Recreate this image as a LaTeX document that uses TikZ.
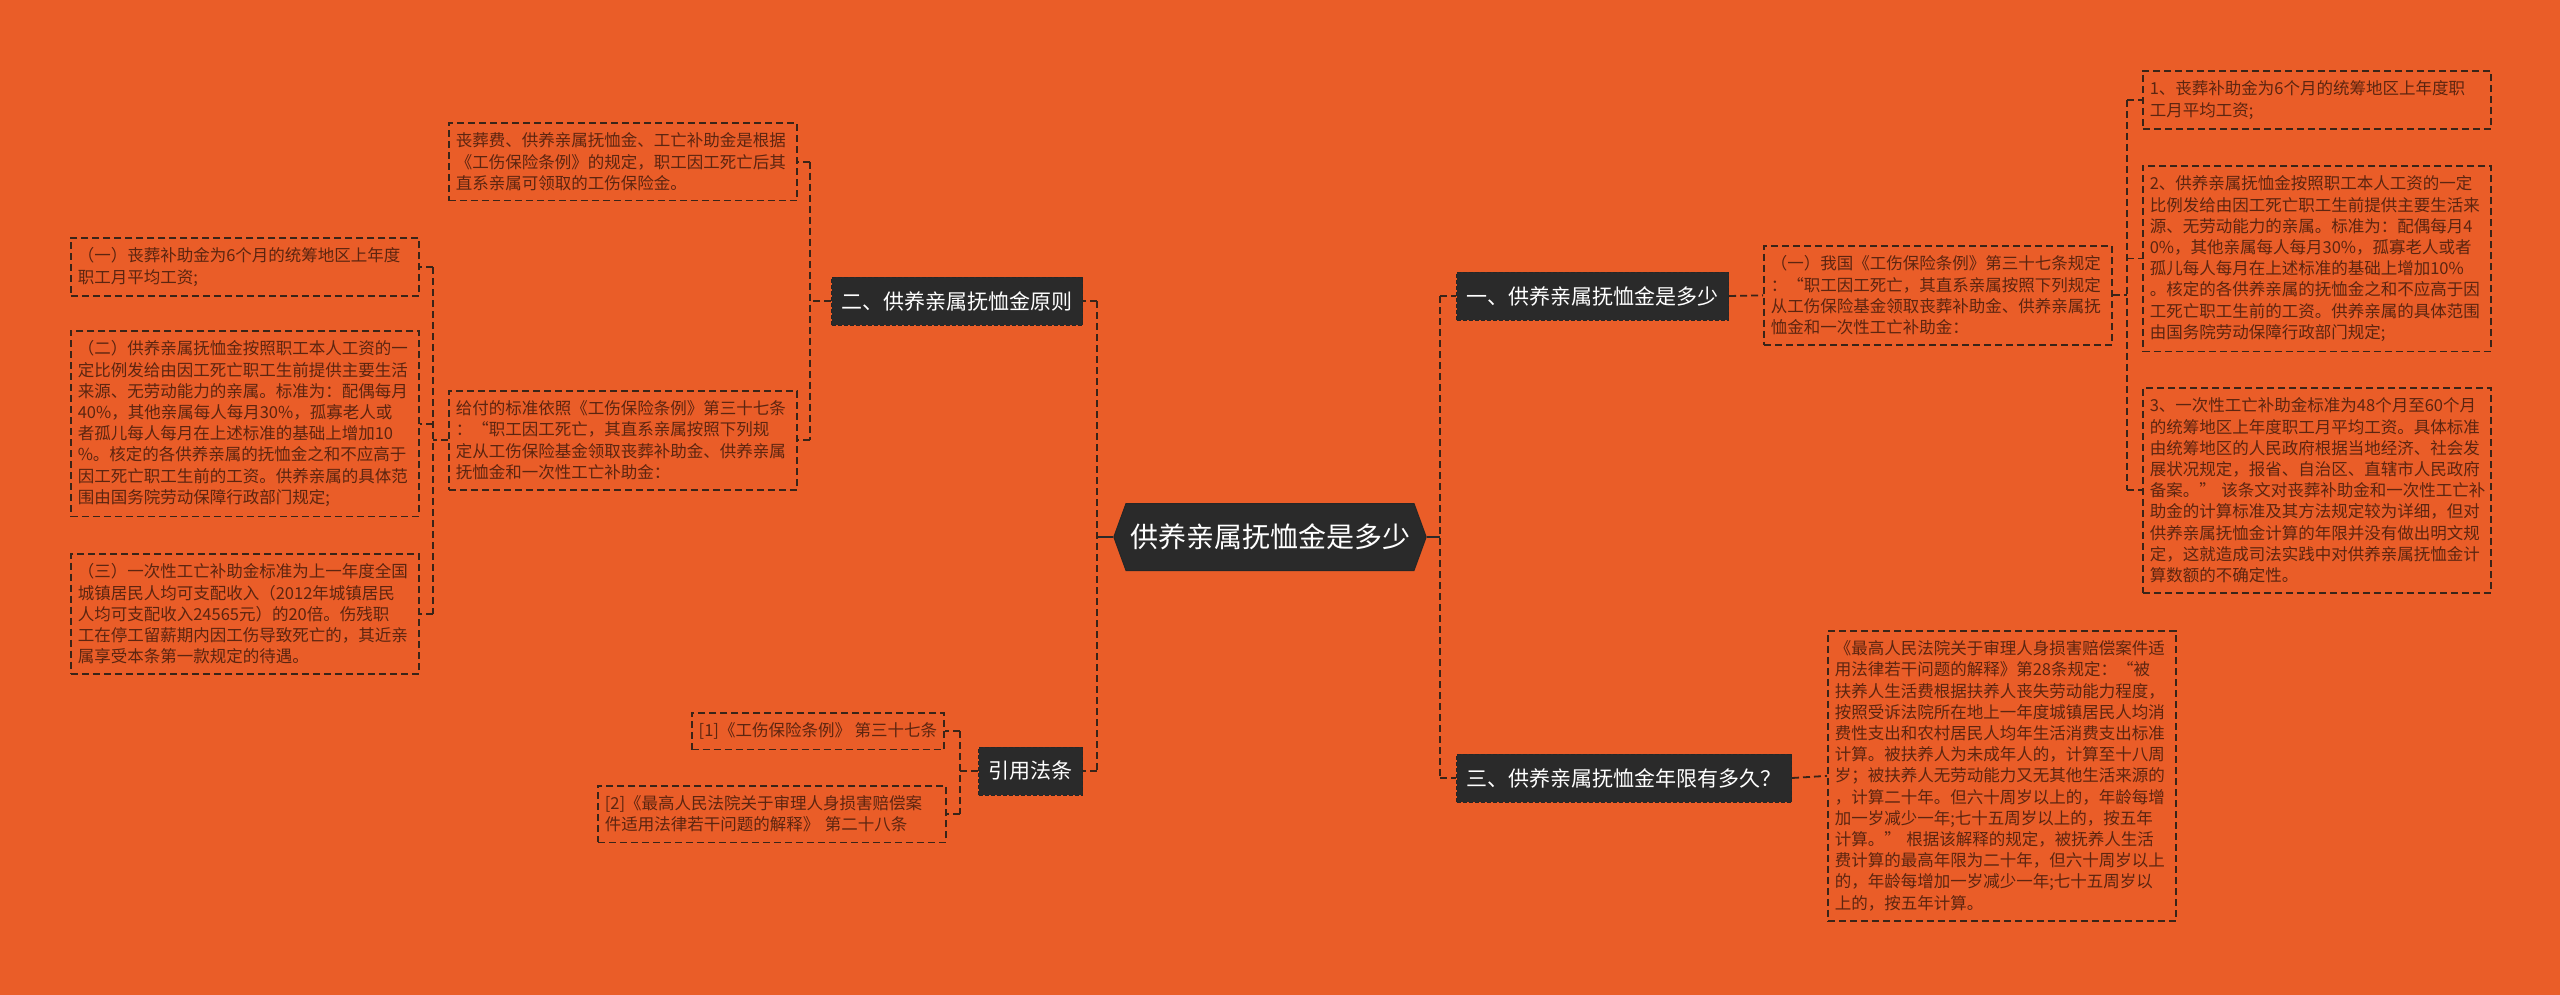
\documentclass[tikz,border=0pt]{standalone}
\usepackage{fontspec}
\setmainfont{Noto Sans CJK SC}
\usetikzlibrary{shapes.symbols}
\definecolor{bg}{HTML}{EA5D28}
\definecolor{ink}{HTML}{5C2510}
\definecolor{lin}{HTML}{3A2418}
\definecolor{dark}{HTML}{2A2A2A}
\tikzset{
 conn/.style={draw=lin, line width=1.8pt, dash pattern=on 7pt off 4pt},
 hubconn/.style={draw=dark, line width=1.8pt},
 leaf/.style={draw=lin, line width=1.6pt, dash pattern=on 7pt off 4pt, text=ink, align=left, inner xsep=7pt, inner ysep=10pt, font=\fontsize{16.5}{21.2}\selectfont},
 leafw/.style={leaf, text width=334pt},
 topic/.style={draw=black!85, line width=1pt, dash pattern=on 4pt off 2pt, fill=dark, text=white, font=\fontsize{21}{25}\selectfont, inner xsep=10pt, minimum height=48pt},
 hub/.style={signal, signal to=east and west, signal pointer angle=140, fill=dark, draw=black!85, line width=1pt, text=white, font=\fontsize{28}{32}\selectfont, minimum height=67pt, inner xsep=4pt}
}
\begin{document}
\begin{tikzpicture}[x=1pt,y=-1pt]
\fill[bg] (0,0) rectangle (2560,995);
\useasboundingbox (0,0) rectangle (2560,995);

% bus coordinates
\coordinate (bL) at (1097,0);
\coordinate (bR) at (1440,0);
\coordinate (b2) at (810,0);
\coordinate (bG) at (433,0);
\coordinate (b4) at (960,0);
\coordinate (bR1) at (2127,0);

% hub
\node[hub] (hub) at (1270,537) {供养亲属抚恤金是多少};

% topics
\node[topic, anchor=west] (t1) at (1456,296) {一、供养亲属抚恤金是多少};
\node[topic, anchor=west] (t3) at (1456,778) {三、供养亲属抚恤金年限有多久？};
\node[topic, anchor=east] (t2) at (1083,301) {二、供养亲属抚恤金原则};
\node[topic, anchor=east] (t4) at (1083,771) {引用法条};

% left leaves of topic 2
\node[leafw, anchor=north west] (n2a) at (448,122) {丧葬费、供养亲属抚恤金、工亡补助金是根据\\《工伤保险条例》的规定，职工因工死亡后其\\直系亲属可领取的工伤保险金。};
\node[leafw, anchor=north west] (n2b) at (448,390) {给付的标准依照《工伤保险条例》第三十七条\\：“职工因工死亡，其直系亲属按照下列规\\定从工伤保险基金领取丧葬补助金、供养亲属\\抚恤金和一次性工亡补助金：};

\node[leafw, anchor=north west] (L1) at (70,237) {（一）丧葬补助金为6个月的统筹地区上年度\\职工月平均工资;};
\node[leafw, anchor=north west] (L2) at (70,330) {（二）供养亲属抚恤金按照职工本人工资的一\\定比例发给由因工死亡职工生前提供主要生活\\来源、无劳动能力的亲属。标准为：配偶每月\\40\%，其他亲属每人每月30\%，孤寡老人或\\者孤儿每人每月在上述标准的基础上增加10\\\%。核定的各供养亲属的抚恤金之和不应高于\\因工死亡职工生前的工资。供养亲属的具体范\\围由国务院劳动保障行政部门规定;};
\node[leafw, anchor=north west] (L3) at (70,553) {（三）一次性工亡补助金标准为上一年度全国\\城镇居民人均可支配收入（2012年城镇居民\\人均可支配收入24565元）的20倍。伤残职\\工在停工留薪期内因工伤导致死亡的，其近亲\\属享受本条第一款规定的待遇。};

% references
\node[leaf, anchor=north east] (c1) at (945,712) {[1]《工伤保险条例》~第三十七条};
\node[leafw, anchor=north west] (c2) at (597,785) {[2]《最高人民法院关于审理人身损害赔偿案\\件适用法律若干问题的解释》~第二十八条};

% right side
\node[leafw, anchor=north west] (r1) at (1763,245) {（一）我国《工伤保险条例》第三十七条规定\\：“职工因工死亡，其直系亲属按照下列规定\\从工伤保险基金领取丧葬补助金、供养亲属抚\\恤金和一次性工亡补助金：};
\node[leafw, anchor=north west] (r1a) at (2142,70) {1、丧葬补助金为6个月的统筹地区上年度职\\工月平均工资;};
\node[leafw, anchor=north west] (r1b) at (2142,165) {2、供养亲属抚恤金按照职工本人工资的一定\\比例发给由因工死亡职工生前提供主要生活来\\源、无劳动能力的亲属。标准为：配偶每月4\\0\%，其他亲属每人每月30\%，孤寡老人或者\\孤儿每人每月在上述标准的基础上增加10\%\\。核定的各供养亲属的抚恤金之和不应高于因\\工死亡职工生前的工资。供养亲属的具体范围\\由国务院劳动保障行政部门规定;};
\node[leafw, anchor=north west] (r1c) at (2142,387) {3、一次性工亡补助金标准为48个月至60个月\\的统筹地区上年度职工月平均工资。具体标准\\由统筹地区的人民政府根据当地经济、社会发\\展状况规定，报省、自治区、直辖市人民政府\\备案。”~该条文对丧葬补助金和一次性工亡补\\助金的计算标准及其方法规定较为详细，但对\\供养亲属抚恤金计算的年限并没有做出明文规\\定，这就造成司法实践中对供养亲属抚恤金计\\算数额的不确定性。};
\node[leafw, anchor=north west] (r3) at (1827,630) {《最高人民法院关于审理人身损害赔偿案件适\\用法律若干问题的解释》第28条规定：“被\\扶养人生活费根据扶养人丧失劳动能力程度，\\按照受诉法院所在地上一年度城镇居民人均消\\费性支出和农村居民人均年生活消费支出标准\\计算。被扶养人为未成年人的，计算至十八周\\岁；被扶养人无劳动能力又无其他生活来源的\\，计算二十年。但六十周岁以上的，年龄每增\\加一岁减少一年;七十五周岁以上的，按五年\\计算。”~根据该解释的规定，被抚养人生活\\费计算的最高年限为二十年，但六十周岁以上\\的，年龄每增加一岁减少一年;七十五周岁以\\上的，按五年计算。};

% connectors: hub
\draw[hubconn] (hub.west) -- (bL |- hub.west);
\draw[hubconn] (hub.east) -- (bR |- hub.east);
\draw[conn] (bL |- t2.east) -- (bL |- t4.east);
\draw[conn] (bL |- t2.east) -- (t2.east);
\draw[conn] (bL |- t4.east) -- (t4.east);
\draw[conn] (bR |- t1.west) -- (bR |- t3.west);
\draw[conn] (bR |- t1.west) -- (t1.west);
\draw[conn] (bR |- t3.west) -- (t3.west);

% topic 2
\draw[conn] (t2.west) -- (b2 |- t2.west);
\draw[conn] (b2 |- n2a.east) -- (b2 |- n2b.east);
\draw[conn] (b2 |- n2a.east) -- (n2a.east);
\draw[conn] (b2 |- n2b.east) -- (n2b.east);
% n2b children
\draw[conn] (n2b.west) -- (bG |- n2b.west);
\draw[conn] (bG |- L1.east) -- (bG |- L3.east);
\draw[conn] (bG |- L1.east) -- (L1.east);
\draw[conn] (bG |- L2.east) -- (L2.east);
\draw[conn] (bG |- L3.east) -- (L3.east);

% references
\draw[conn] (t4.west) -- (b4 |- t4.west);
\draw[conn] (b4 |- c1.east) -- (b4 |- c2.east);
\draw[conn] (b4 |- c1.east) -- (c1.east);
\draw[conn] (b4 |- c2.east) -- (c2.east);

% right side
\draw[conn] (t1.east) -- (r1.west);
\draw[conn] (r1.east) -- (bR1 |- r1.east);
\draw[conn] (bR1 |- r1a.west) -- (bR1 |- r1c.west);
\draw[conn] (bR1 |- r1a.west) -- (r1a.west);
\draw[conn] (bR1 |- r1b.west) -- (r1b.west);
\draw[conn] (bR1 |- r1c.west) -- (r1c.west);
\draw[conn] (t3.east) -- (r3.west);
\end{tikzpicture}
\end{document}
